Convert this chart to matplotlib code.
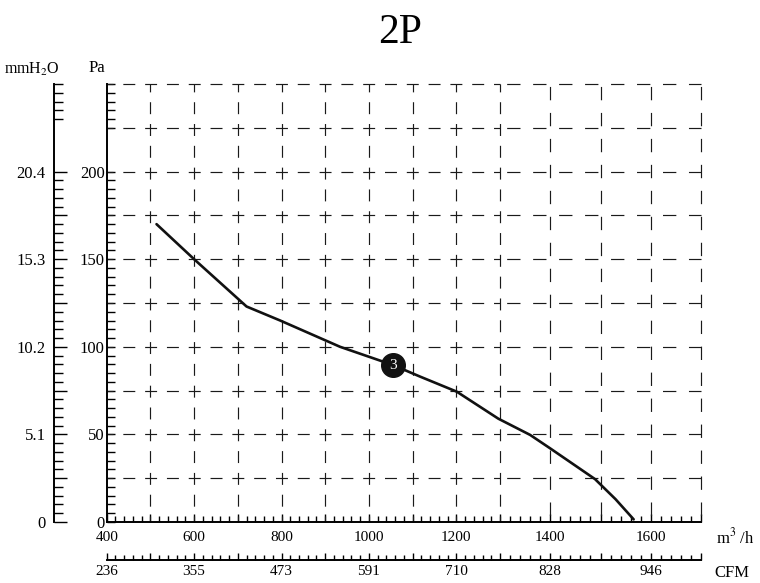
import numpy as np
import matplotlib
matplotlib.use("Agg")
import matplotlib.pyplot as plt
from matplotlib.ticker import FixedLocator, FixedFormatter

plt.rcParams['font.family'] = ['Liberation Serif', 'DejaVu Serif']
plt.rcParams['mathtext.fontset'] = 'stix'
plt.rcParams['lines.scale_dashes'] = False

###########################################
## donnees
###########################################
debit = [514, 600, 720, 797, 934, 1055, 1117, 1201, 1296, 1360, 1400, 1489, 1530, 1566]  # m3/h
pression = [170, 150, 123, 115, 100, 89.6, 83, 74.4, 59, 49.7, 42, 24.5, 13, 1.5]  # Pa
point_debit = 1055
point_pression = 89.6
point_label = "3"

x_ticks = [400, 600, 800, 1000, 1200, 1400, 1600]
cfm_labels = ["236", "355", "473", "591", "710", "828", "946"]
pa_ticks = [0, 50, 100, 150, 200]
mm_labels = ["0", "5.1", "10.2", "15.3", "20.4"]

grid_y = np.arange(25, 251, 25)
grid_x_left = np.arange(500, 1301, 100)
grid_x_right = [1400, 1500, 1600, 1700]


# echelle x par morceaux (le trace d'origine n'est pas lineaire apres 1300)
def fwd(x):
    x = np.asarray(x, dtype=float)
    return np.where(x <= 1300, (x - 1300) * 0.437, (x - 1300) * 0.5025)


def inv(u):
    u = np.asarray(u, dtype=float)
    return np.where(u <= 0, u / 0.437 + 1300, u / 0.5025 + 1300)


fig = plt.figure(figsize=(7.6, 5.83), dpi=100)
ax = fig.add_axes([106.7 / 760, 61 / 583, 594.3 / 760, 438 / 583])
ax.set_xscale('function', functions=(fwd, inv))
ax.set_xlim(400, 1700)
ax.set_ylim(0, 250)

# grille en pointilles
ls_left = (4.3, (8.6, 7.1))
ls_right = (13.9, (9.6, 9.1))
ax.hlines(grid_y, 400, 1300, colors='#1a1a1a', linewidth=0.85, linestyles=[ls_left], clip_on=False)
ax.vlines(grid_x_left, 0, 250, colors='#1a1a1a', linewidth=0.85, linestyles=[ls_left], clip_on=False)
ax.hlines(grid_y, 1300, 1700, colors='#1a1a1a', linewidth=0.85, linestyles=[ls_right], clip_on=False)
ax.vlines(grid_x_right, 0, 250, colors='#1a1a1a', linewidth=0.85, linestyles=[ls_right], clip_on=False)

# courbe
ax.plot(debit, pression, color='#111111', linewidth=1.9, solid_capstyle='round',
        solid_joinstyle='round', zorder=3)
ax.plot(point_debit, point_pression, 'o', color='#111111', markersize=17, zorder=4)
ax.text(point_debit, point_pression, point_label, color='white', fontsize=11,
        ha='center', va='center', zorder=5)

for s in ['top', 'right']:
    ax.spines[s].set_visible(False)
ax.spines['left'].set_linewidth(1.4)
ax.spines['bottom'].set_linewidth(1.4)

# axe m3/h
ax.xaxis.set_major_locator(FixedLocator(np.arange(400, 1701, 100)))
ax.xaxis.set_major_formatter(FixedFormatter([str(v) if v in x_ticks else '' for v in range(400, 1701, 100)]))
ax.xaxis.set_minor_locator(FixedLocator([v for v in range(420, 1700, 20) if v % 100]))
ax.tick_params(axis='x', which='major', direction='in', length=6, width=1, pad=6.5, labelsize=11)
ax.tick_params(axis='x', which='minor', direction='in', length=4, width=1)

# axe Pa
pa_minor = [v for v in range(5, 251, 5) if v % 25 and not (200 < v < 230)]
ax.yaxis.set_major_locator(FixedLocator(np.arange(0, 251, 25)))
ax.yaxis.set_major_formatter(FixedFormatter([str(v) if v in pa_ticks else '' for v in range(0, 251, 25)]))
ax.yaxis.set_minor_locator(FixedLocator(pa_minor))
ax.tick_params(axis='y', which='both', direction='in', length=6, width=1, pad=1.5, labelsize=12)

# axe mmH2O
ax2 = ax.twinx()
ax2.set_ylim(0, 250)
for s in ['top', 'right', 'bottom']:
    ax2.spines[s].set_visible(False)
ax2.spines['left'].set_visible(True)
ax2.spines['left'].set_position(('outward', 37.9))
ax2.spines['left'].set_linewidth(1.4)
ax2.yaxis.tick_left()
ax2.yaxis.set_major_locator(FixedLocator(np.arange(0, 201, 25)))
ax2.yaxis.set_major_formatter(FixedFormatter([mm_labels[pa_ticks.index(v)] if v in pa_ticks else ''
                                              for v in range(0, 201, 25)]))
ax2.yaxis.set_minor_locator(FixedLocator(pa_minor + [250]))
ax2.tick_params(axis='y', which='major', direction='in', length=9.4, width=1, pad=6, labelsize=12)
ax2.tick_params(axis='y', which='minor', direction='in', length=6.5, width=1)

# axe CFM
ax3 = ax.twiny()
ax3.set_xscale('function', functions=(fwd, inv))
ax3.set_xlim(400, 1700)
for s in ['top', 'right', 'left']:
    ax3.spines[s].set_visible(False)
ax3.spines['bottom'].set_visible(True)
ax3.spines['bottom'].set_position(('outward', 27.4))
ax3.spines['bottom'].set_linewidth(1.4)
ax3.xaxis.tick_bottom()
ax3.xaxis.set_major_locator(FixedLocator(np.arange(400, 1701, 100)))
ax3.xaxis.set_major_formatter(FixedFormatter([cfm_labels[x_ticks.index(v)] if v in x_ticks else ''
                                              for v in range(400, 1701, 100)]))
ax3.xaxis.set_minor_locator(FixedLocator([v for v in range(420, 1700, 20) if v % 100]))
ax3.tick_params(axis='x', which='major', direction='in', length=5, width=1, pad=3.5, labelsize=11)
ax3.tick_params(axis='x', which='minor', direction='in', length=3.3, width=1)

# textes
fig.text(400 / 760, 1 - 33 / 583, "2P", fontsize=30, ha='center', va='center')
fig.text(97 / 760, 1 - 68 / 583, "Pa", fontsize=12, ha='center', va='center')
fig.text(32 / 760, 1 - 69 / 583, "mmH$_2$O", fontsize=11.5, ha='center', va='center')
fig.text(735 / 760, 1 - 537 / 583, "m$^3$ /h", fontsize=12, ha='center', va='center')
fig.text(732 / 760, 1 - 573 / 583, "CFM", fontsize=12, ha='center', va='center')

fig.savefig("out.png", dpi=100)
